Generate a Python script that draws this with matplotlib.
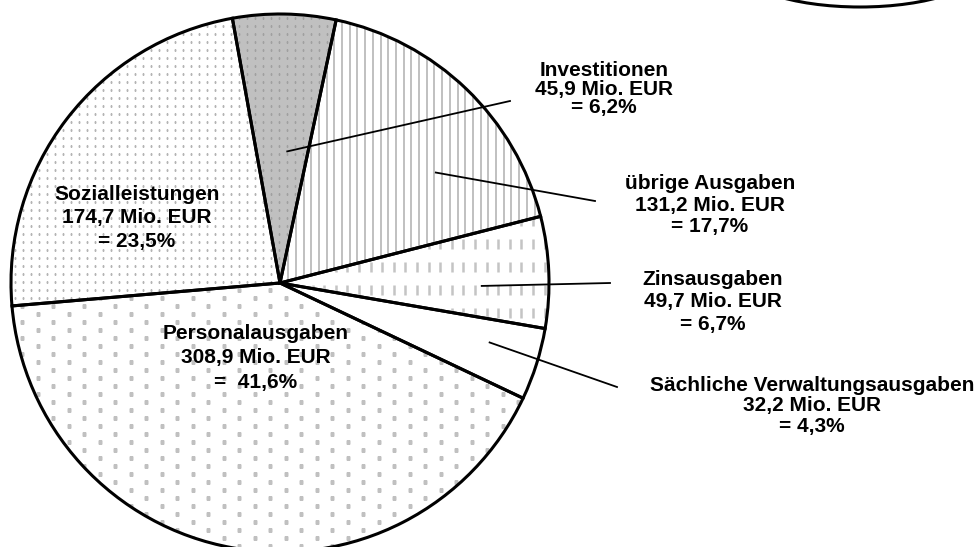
import numpy as np
import matplotlib
matplotlib.use("Agg")
import matplotlib.pyplot as plt
from matplotlib.patches import Ellipse

plt.rcParams['font.family'] = ['Liberation Sans', 'DejaVu Sans']

# Ausgaben in Mio. EUR (Reihenfolge im Uhrzeigersinn ab 12 Uhr)
kategorien = ["Investitionen", "übrige Ausgaben", "Zinsausgaben",
              "Sächliche Verwaltungsausgaben", "Personalausgaben", "Sozialleistungen"]
werte = [45.9, 131.2, 49.7, 32.2, 308.9, 174.7]
prozent = ["6,2%", "17,7%", "6,7%", "4,3%", " 41,6%", "23,5%"]
betrag = ["45,9", "131,2", "49,7", "32,2", "308,9", "174,7"]

W, H = 977, 547
def py(v):
    # Pixelzeile -> y-Datenwert (y nach oben)
    return H - v

fig = plt.figure(figsize=(9.77, 5.47), dpi=100)
ax = fig.add_axes([0, 0, 1, 1])

cx, cy, R = 280, py(283), 269

# Füllung
faces = ["#c0c0c0", "white", "white", "white", "white", "white"]
wedges, _ = ax.pie(werte, center=(cx, cy), radius=R, startangle=100.2,
                   counterclock=False, colors=faces,
                   wedgeprops=dict(linewidth=0, zorder=1))

def punkte(w, pitch_x, pitch_y, stagger, size, color):
    xs, ys = [], []
    ys_row = np.arange(cy - R - 10, cy + R + 10, pitch_y)
    for i, yy in enumerate(ys_row):
        off = stagger if i % 2 else 0
        xr = np.arange(cx - R - 20 + off, cx + R + 20, pitch_x)
        xs.extend(xr)
        ys.extend([yy] * len(xr))
    p, = ax.plot(xs, ys, 's', ms=size, color=color, mec='none', zorder=2)
    p.set_clip_path(w)

def striche(w, pitch, lw, color, dash=None, stagger=0):
    xs = np.arange(cx - R, cx + R, pitch)
    for i, xx in enumerate(xs):
        if dash is None:
            l, = ax.plot([xx, xx], [cy - R, cy + R], color=color, lw=lw, zorder=2)
        else:
            l, = ax.plot([xx, xx], [cy - R - (stagger if i % 2 else 0), cy + R],
                         color=color, lw=lw, zorder=2, dashes=dash,
                         solid_capstyle='butt', dash_capstyle='butt')
        l.set_clip_path(w)

punkte(wedges[0], 8, 8, 0, 1.3, "#a0a0a0")          # Investitionen
striche(wedges[1], 7.7, 1.4, "#c0c0c0")              # übrige Ausgaben
striche(wedges[2], 11.6, 1.8, "#c4c4c4", dash=(4.0, 5.2), stagger=11.6)  # Zins
punkte(wedges[4], 31, 8, 15.5, 2.2, "#c0c0c0")       # Personal
punkte(wedges[5], 8, 8, 0, 1.4, "#b4b4b4")           # Sozial

# Umrisse
ax.pie(werte, center=(cx, cy), radius=R, startangle=100.2, counterclock=False,
       colors=["none"] * len(werte),
       wedgeprops=dict(linewidth=2.2, edgecolor="black", zorder=3))

# Ellipse oben rechts (angeschnitten)
ell = Ellipse((860, py(-36)), 250, 86, facecolor="white", edgecolor="black", lw=2.2, zorder=3)
ax.add_patch(ell)
ed, = ax.plot(np.arange(740, 980, 16), [py(3)] * 15, 's', ms=2.2, color="#c0c0c0", mec='none', zorder=2)
ed.set_clip_path(ell)

# Beschriftungen
text_pos = [(604, 89), (710, 205), (713, 302), (812, 406), (256, 358), (137, 218)]
spacing = [0.95, 1.16, 1.21, 1.08, 1.37, 1.29]
for i in range(len(werte)):
    txt = f"{kategorien[i]}\n{betrag[i]} Mio. EUR\n= {prozent[i]}"
    ax.text(text_pos[i][0], py(text_pos[i][1]), txt, ha='center', va='center',
            multialignment='center', fontsize=15, fontweight='bold',
            linespacing=spacing[i], zorder=5)

# Verbindungslinien (Winkelanteil im Segment, Radiusanteil, Endpunkt)
anker = {0: (0.4, 0.49, (510, 101)), 1: (0.33, 0.71, (595, 201)),
         2: (0.37, 0.75, (610, 283)), 3: (0.61, 0.81, (617, 387))}
for i, (f, rf, ende) in anker.items():
    w = wedges[i]
    th = np.deg2rad(w.theta1 + f * (w.theta2 - w.theta1))
    ax0, ay0 = cx + rf * R * np.cos(th), cy + rf * R * np.sin(th)
    ax.plot([ax0, ende[0]], [ay0, py(ende[1])], color="black", lw=1.3, zorder=4)

ax.set_xlim(0, W)
ax.set_ylim(0, H)
ax.set_aspect('equal')
ax.axis('off')
fig.savefig("out.png", dpi=100)
